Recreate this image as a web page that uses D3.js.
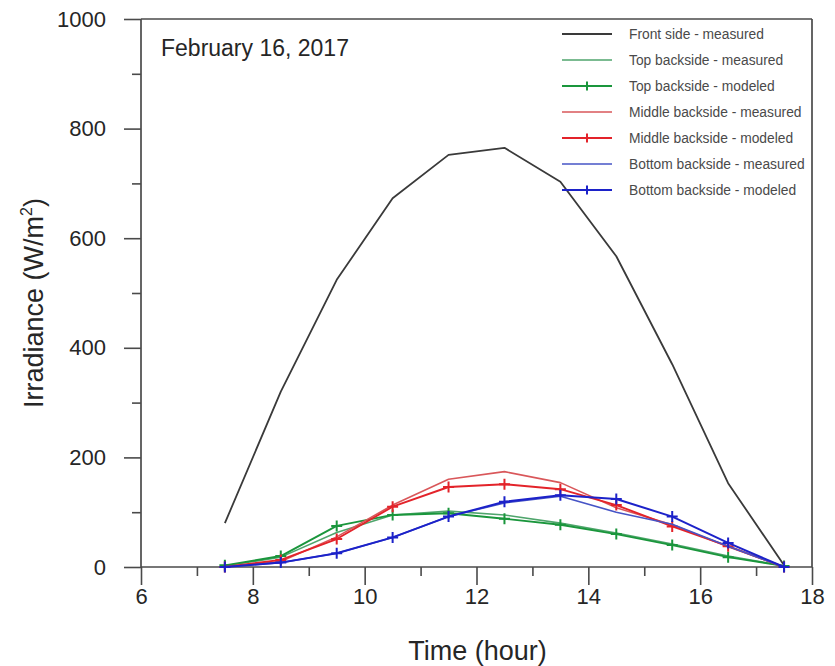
<!DOCTYPE html>
<html>
<head>
<meta charset="utf-8">
<script src="https://cdn.jsdelivr.net/npm/d3@7"></script>
<style>
  html, body { margin: 0; padding: 0; background: #fff; }
  svg { display: block; font-family: "Liberation Sans", Arial, sans-serif; }
</style>
</head>
<body>
<svg id="chart" width="835" height="666"></svg>
<script>
// ---- data ----
const hours = [7.5, 8.5, 9.5, 10.5, 11.5, 12.5, 13.5, 14.5, 15.5, 16.5, 17.5];
const frontMeasured  = [80, 320, 524, 673, 752, 765, 703, 567, 370, 153, 3];
const topMeasured    = [2, 18, 63, 95, 102, 95, 80, 62, 42, 20, 2];
const topModeled     = [3, 20, 75, 95, 98, 88, 77, 60, 40, 18, 2];
const midMeasured    = [0, 10, 55, 113, 160, 174, 154, 108, 77, 37, 0];
const midModeled     = [0, 13, 51, 110, 146, 151, 142, 113, 74, 38, 0];
const botMeasured    = [0, 8, 25, 54, 92, 117, 129, 100, 78, 38, 0];
const botModeled     = [0, 8, 25, 54, 92, 119, 131, 124, 92, 44, 0];
const xTicks = [6, 8, 10, 12, 14, 16, 18];
const xMinorTicks = [7, 9, 11, 13, 15, 17];
const yTicks = [0, 200, 400, 600, 800, 1000];
const yMinorTicks = [100, 300, 500, 700, 900];
const dateLabel = "February 16, 2017";
const xTitle = "Time (hour)";

const series = [
  { name: "Front side - measured",    values: frontMeasured, color: "#3a3a3a", width: 1.8, marker: false },
  { name: "Top backside - measured",  values: topMeasured,   color: "#4fa56c", width: 1.6, marker: false },
  { name: "Top backside - modeled",   values: topModeled,    color: "#1a963c", width: 1.9, marker: true },
  { name: "Middle backside - measured", values: midMeasured, color: "#d9575a", width: 1.6, marker: false },
  { name: "Middle backside - modeled",  values: midModeled,  color: "#e3232a", width: 1.9, marker: true },
  { name: "Bottom backside - measured", values: botMeasured, color: "#4654c6", width: 1.6, marker: false },
  { name: "Bottom backside - modeled",  values: botModeled,  color: "#1c22c9", width: 2.0, marker: true }
];

// ---- layout ----
const svg = d3.select("#chart");
const L = 141, R = 812, T = 19, B = 567;
const x = d3.scaleLinear().domain([6, 18]).range([L, R]);
const y = d3.scaleLinear().domain([0, 1000]).range([B, T]);
const axisColor = "#4a4a4a";
const textColor = "#262626";

// frame (top and right)
svg.append("line").attr("x1", L).attr("x2", R).attr("y1", T).attr("y2", T)
  .attr("stroke", axisColor).attr("stroke-width", 1.7);
svg.append("line").attr("x1", R).attr("x2", R).attr("y1", T).attr("y2", B)
  .attr("stroke", axisColor).attr("stroke-width", 1.7);

// x axis
const gx = svg.append("g").attr("transform", `translate(0,${B})`)
  .call(d3.axisBottom(x).tickValues(xTicks).tickSize(18).tickPadding(3).tickFormat(d3.format("d")));
svg.append("g").attr("transform", `translate(0,${B})`)
  .call(d3.axisBottom(x).tickValues(xMinorTicks).tickSize(9).tickFormat(""))
  .call(g => g.select(".domain").remove());

// y axis
const gy = svg.append("g").attr("transform", `translate(${L},0)`)
  .call(d3.axisLeft(y).tickValues(yTicks).tickSize(17).tickPadding(18).tickFormat(d3.format("d")));
svg.append("g").attr("transform", `translate(${L},0)`)
  .call(d3.axisLeft(y).tickValues(yMinorTicks).tickSize(9).tickFormat(""))
  .call(g => g.select(".domain").remove());

svg.selectAll(".domain").remove();
svg.selectAll(".tick line").attr("stroke", axisColor).attr("stroke-width", 1.6);
gx.selectAll(".tick text").attr("font-size", 22).attr("fill", textColor)
  .attr("font-family", "Liberation Sans, Arial, sans-serif");
gy.selectAll(".tick text").attr("font-size", 22).attr("fill", textColor)
  .attr("font-family", "Liberation Sans, Arial, sans-serif");
// axis lines
svg.append("line").attr("x1", L).attr("x2", L).attr("y1", T).attr("y2", B)
  .attr("stroke", axisColor).attr("stroke-width", 1.7);
svg.append("line").attr("x1", L).attr("x2", R).attr("y1", B).attr("y2", B)
  .attr("stroke", axisColor).attr("stroke-width", 1.7);

// axis titles
svg.append("text").attr("x", (L + R) / 2 + 1).attr("y", 660).attr("text-anchor", "middle")
  .attr("font-size", 27).attr("fill", textColor).text(xTitle);
const yt = svg.append("text").attr("transform", `translate(43,303) rotate(-90)`)
  .attr("text-anchor", "middle").attr("font-size", 27).attr("fill", textColor);
yt.append("tspan").text("Irradiance (W/m");
yt.append("tspan").attr("font-size", 16).attr("dy", -11).text("2");
yt.append("tspan").attr("dy", 11).text(")");

// date label
svg.append("text").attr("x", 161).attr("y", 56).attr("font-size", 23)
  .attr("fill", textColor).text(dateLabel);

// lines
const line = d3.line().x(d => x(d[0])).y(d => y(d[1]));
const plusPath = (cx, cy, s) => `M${cx - s},${cy}H${cx + s}M${cx},${cy - s}V${cy + s}`;

series.forEach(s => {
  const pts = hours.map((h, i) => [h, s.values[i]]);
  svg.append("path").datum(pts).attr("d", line)
    .attr("fill", "none").attr("stroke", s.color).attr("stroke-width", s.width)
    .attr("stroke-linejoin", "round");
  if (s.marker) {
    svg.append("g").selectAll("path").data(pts).join("path")
      .attr("d", d => plusPath(x(d[0]), y(d[1]), 5.5))
      .attr("stroke", s.color).attr("stroke-width", 2).attr("fill", "none");
  }
});

// legend
const lg = svg.append("g");
series.forEach((s, i) => {
  const ly = 34 + i * 26;
  lg.append("line").attr("x1", 562).attr("x2", 612).attr("y1", ly).attr("y2", ly)
    .attr("stroke", s.color).attr("stroke-width", s.width);
  if (s.marker) {
    lg.append("path").attr("d", plusPath(587, ly, 4.5))
      .attr("stroke", s.color).attr("stroke-width", 2);
  }
  lg.append("text").attr("x", 629).attr("y", ly + 5).attr("font-size", 13.8)
    .attr("fill", "#4a4a4a").text(s.name);
});
</script>
</body>
</html>
